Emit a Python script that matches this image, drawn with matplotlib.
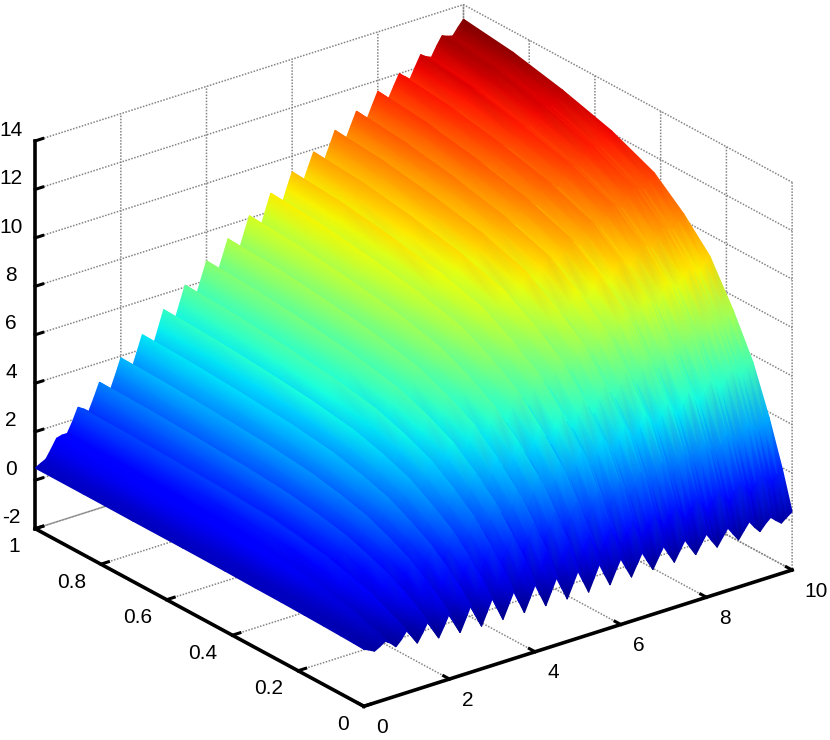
import matplotlib
matplotlib.use("Agg")
import matplotlib.pyplot as plt
import numpy as np
from mpl_toolkits.mplot3d import proj3d

plt.rcParams["font.family"] = ["Liberation Sans", "DejaVu Sans"]
plt.rcParams["axes.unicode_minus"] = False

X_TICKS = [0, 2, 4, 6, 8, 10]
Y_TICKS = [0, 0.2, 0.4, 0.6, 0.8, 1]
Z_TICKS = [-2, 0, 2, 4, 6, 8, 10, 12, 14]
Y_LABELS = ["0", "0.2", "0.4", "0.6", "0.8", "1"]

# surface samples, one row per y, x runs 0..10 in steps of 0.125
Y_VALUES = [0, 0.03, 0.07, 0.12, 0.18, 0.25, 0.33, 0.42, 0.55, 0.7, 0.85, 1]
Z_ROWS = [
    [.35,.25,.13,.25, .40,.25,.03,.25, .55,.25,-.10,.25, .65,.25,-.17,.25, .70,.25,-.23,.25,
     .75,.25,-.25,.25, .75,.25,-.25,.25, .75,.25,-.25,.25, .75,.25,-.25,.25, .75,.25,-.25,.25,
     .75,.25,-.25,.25, .75,.25,-.23,.25, .70,.25,-.19,.25, .67,.25,-.16,.25, .65,.25,-.14,.25,
     .63,.25,-.11,.25, .60,.25,-.08,.25, .57,.25,-.06,.25, .55,.25,0,.25, .45,.25,.07,.25, .40],
    [.37,.30,.21,.35, .53,.41,.21,.46, .78,.50,.17,.54, .96,.58,.18,.62, 1.09,.66,.20,.69,
     1.21,.73,.26,.78, 1.30,.82,.35,.87, 1.39,.91,.44,.96, 1.48,1.00,.52,1.03, 1.55,1.07,.59,1.11,
     1.63,1.15,.67,1.19, 1.71,1.23,.77,1.27, 1.74,1.31,.88,1.34, 1.78,1.38,.99,1.41, 1.83,1.45,1.08,1.48,
     1.88,1.52,1.17,1.55, 1.91,1.58,1.26,1.61, 1.94,1.64,1.34,1.67, 1.98,1.70,1.47,1.74, 1.96,1.77,1.60,1.80, 1.96],
    [.39,.35,.29,.46, .67,.58,.41,.69, 1.04,.78,.48,.87, 1.31,.96,.58,1.05, 1.54,1.13,.69,1.21,
     1.75,1.30,.85,1.40, 1.95,1.50,1.05,1.59, 2.14,1.69,1.23,1.78, 2.32,1.86,1.41,1.95, 2.49,2.03,1.58,2.12,
     2.66,2.20,1.75,2.29, 2.83,2.37,1.94,2.46, 2.95,2.54,2.14,2.61, 3.07,2.69,2.32,2.77, 3.21,2.85,2.49,2.91,
     3.33,2.99,2.67,3.06, 3.45,3.13,2.83,3.19, 3.54,3.26,2.98,3.33, 3.66,3.40,3.19,3.47, 3.71,3.54,3.39,3.60, 3.78],
    [.41,.40,.38,.59, .83,.77,.64,.94, 1.33,1.10,.82,1.23, 1.70,1.37,1.01,1.50, 2.02,1.64,1.22,1.77,
     2.33,1.91,1.48,2.06, 2.64,2.22,1.79,2.37, 2.94,2.51,2.09,2.66, 3.23,2.80,2.36,2.92, 3.49,3.06,2.63,3.19,
     3.76,3.33,2.90,3.46, 4.03,3.60,3.19,3.73, 4.25,3.86,3.50,3.97, 4.45,4.10,3.75,4.23, 4.69,4.35,4.01,4.46,
     4.89,4.57,4.26,4.68, 5.09,4.79,4.51,4.89, 5.26,5.00,4.74,5.09, 5.45,5.21,5.03,5.34, 5.60,5.45,5.31,5.53, 5.73],
    [.43,.45,.46,.70, .97,.94,.83,1.17, 1.58,1.37,1.10,1.54, 2.03,1.72,1.39,1.90, 2.44,2.08,1.68,2.25,
     2.83,2.43,2.03,2.63, 3.23,2.83,2.43,3.03, 3.63,3.23,2.83,3.42, 4.02,3.61,3.19,3.78, 4.36,3.95,3.54,4.13,
     4.72,4.31,3.90,4.48, 5.07,4.66,4.27,4.83, 5.37,5.00,4.66,5.15, 5.65,5.32,4.99,5.49, 5.97,5.64,5.32,5.79,
     6.24,5.94,5.65,6.09, 6.51,6.22,5.96,6.36, 6.74,6.49,6.25,6.62, 7.00,6.78,6.61,6.95, 7.23,7.09,6.97,7.21, 7.42],
    [.45,.50,.53,.80, 1.10,1.09,1.02,1.38, 1.82,1.63,1.39,1.85, 2.36,2.07,1.77,2.30, 2.86,2.52,2.14,2.73,
     3.33,2.96,2.58,3.21, 3.83,3.45,3.08,3.70, 4.32,3.94,3.56,4.18, 4.80,4.41,4.02,4.62, 5.23,4.84,4.45,5.06,
     5.67,5.28,4.89,5.50, 6.11,5.72,5.35,5.94, 6.50,6.15,5.80,6.34, 6.85,6.54,6.23,6.75, 7.25,6.94,6.63,7.11,
     7.58,7.30,7.04,7.49, 7.94,7.67,7.42,7.83, 8.23,8.00,7.78,8.17, 8.56,8.36,8.21,8.56, 8.86,8.73,8.63,8.89, 9.11],
    [.46,.53,.59,.88, 1.20,1.21,1.15,1.53, 1.99,1.82,1.59,2.07, 2.59,2.32,2.03,2.57, 3.15,2.82,2.46,3.06,
     3.68,3.32,2.97,3.61, 4.25,3.89,3.53,4.16, 4.80,4.44,4.08,4.71, 5.35,4.97,4.59,5.21, 5.83,5.46,5.09,5.71,
     6.34,5.96,5.59,6.21, 6.83,6.45,6.10,6.70, 7.27,6.93,6.60,7.15, 7.68,7.38,7.09,7.62, 8.14,7.84,7.55,8.04,
     8.52,8.25,8.00,8.46, 8.92,8.66,8.43,8.85, 9.26,9.04,8.82,9.23, 9.63,9.45,9.31,9.68, 9.99,9.87,9.78,10.05, 10.28],
    [.48,.57,.64,.94, 1.28,1.31,1.27,1.67, 2.15,2.00,1.77,2.25, 2.79,2.53,2.25,2.81, 3.40,3.08,2.73,3.35,
     3.98,3.64,3.30,3.95, 4.61,4.27,3.92,4.58, 5.23,4.88,4.53,5.18, 5.83,5.46,5.10,5.73, 6.36,6.00,5.64,6.28,
     6.92,6.56,6.20,6.83, 7.47,7.11,6.77,7.38, 7.97,7.64,7.32,7.86, 8.41,8.12,7.85,8.39, 8.92,8.63,8.35,8.86,
     9.35,9.09,8.85,9.35, 9.80,9.55,9.32,9.75, 10.17,9.96,9.76,10.17, 10.59,10.41,10.29,10.67, 10.99,10.88,10.80,11.07, 11.32],
    [.49,.59,.68,1.01, 1.35,1.39,1.36,1.77, 2.26,2.11,1.91,2.40, 2.95,2.70,2.43,3.00, 3.60,3.29,2.96,3.58,
     4.22,3.89,3.56,4.22, 4.89,4.56,4.22,4.89, 5.55,5.21,4.88,5.54, 6.20,5.84,5.48,6.12, 6.76,6.41,6.07,6.72,
     7.37,7.01,6.66,7.30, 7.95,7.60,7.27,7.89, 8.49,8.17,7.86,8.42, 8.97,8.69,8.43,8.98, 9.52,9.24,8.98,9.47,
     9.97,9.72,9.49,9.98, 10.46,10.22,10.00,10.43, 10.86,10.66,10.47,10.89, 11.31,11.14,11.03,11.42, 11.75,11.65,11.57,11.85, 12.10],
    [.49,.60,.70,1.03, 1.39,1.44,1.42,1.85, 2.35,2.20,2.00,2.50, 3.06,2.82,2.56,3.13, 3.74,3.44,3.11,3.74,
     4.39,4.07,3.75,4.42, 5.10,4.77,4.45,5.12, 5.79,5.46,5.13,5.80, 6.47,6.12,5.77,6.40, 7.06,6.72,6.38,7.04,
     7.70,7.35,7.01,7.66, 8.31,7.96,7.63,8.28, 8.87,8.56,8.25,8.81, 9.38,9.11,8.85,9.41, 9.96,9.69,9.42,9.93,
     10.44,10.20,9.97,10.47, 10.95,10.71,10.50,10.94, 11.37,11.17,10.98,11.40, 11.84,11.68,11.58,11.97, 12.31,12.22,12.15,12.43, 12.69],
    [.50,.62,.72,1.06, 1.43,1.49,1.47,1.95, 2.41,2.27,2.08,2.59, 3.15,2.92,2.66,3.25, 3.86,3.56,3.23,3.87,
     4.52,4.20,3.89,4.58, 5.26,4.94,4.61,5.29, 5.97,5.65,5.32,6.02, 6.68,6.33,5.99,6.64, 7.30,6.96,6.62,7.29,
     7.95,7.61,7.27,7.93, 8.59,8.25,7.93,8.59, 9.18,8.87,8.57,9.15, 9.71,9.44,9.19,9.75, 10.30,10.03,9.77,10.29,
     10.80,10.56,10.34,10.84, 11.33,11.10,10.89,11.33, 11.77,11.58,11.40,11.81, 12.26,12.11,12.00,12.40, 12.75,12.66,12.59,12.88, 13.14],
    [.50,.62,.73,1.08, 1.45,1.51,1.51,1.94, 2.45,2.31,2.13,2.64, 3.20,2.97,2.71,3.30, 3.92,3.63,3.30,3.94,
     4.60,4.29,3.97,4.66, 5.35,5.03,4.71,5.40, 6.08,5.76,5.44,6.12, 6.80,6.46,6.11,6.76, 7.43,7.10,6.76,7.43,
     8.10,7.76,7.42,8.09, 8.75,8.41,8.10,8.74, 9.35,9.04,8.75,9.33, 9.89,9.63,9.40,9.94, 10.50,10.23,9.98,10.50,
     11.01,10.77,10.56,11.06, 11.55,11.32,11.11,11.56, 12.00,11.81,11.63,12.07, 12.50,12.35,12.25,12.65, 13.00,12.91,12.85,13.14, 13.40],
]

GRID_COLOR = "#858585"


def style_axis(axis, ticks, labels=None, pad=4, ha="center", va="center"):
    axis.set_ticks(ticks)
    if labels is not None:
        axis.set_ticklabels(labels)
    axis.set_pane_color((1, 1, 1, 0))
    axis.pane.set_edgecolor(GRID_COLOR)
    axis.pane.set_linewidth(0.8)
    axis.line.set_color("black")
    axis.line.set_linewidth(2.6)
    axis._axinfo["grid"].update(color=GRID_COLOR, linestyle=(0, (1, 1)), linewidth=1.1)
    axis._axinfo["tick"].update(inward_factor=0.0, outward_factor=0.22)
    axis._axinfo["tick"]["linewidth"] = {True: 2.2, False: 1.0}
    axis.set_tick_params(labelsize=15, pad=pad, colors="black")
    for tick in axis.get_major_ticks():
        tick.label1.set_horizontalalignment(ha)
        tick.label1.set_verticalalignment(va)


def draw_surface(figure, axis, x_grid, y_grid, z_values):
    # mplot3d has no smooth shading, so project the samples and draw them gouraud on a 2d overlay
    figure.canvas.draw()
    x_proj, y_proj, depth = proj3d.proj_transform(
        x_grid.ravel(), y_grid.ravel(), z_values.ravel(), axis.get_proj()
    )
    pixels = axis.transData.transform(np.column_stack([x_proj, y_proj]))

    rows, cols = z_values.shape
    index = np.arange(rows * cols).reshape(rows, cols)
    lower = np.stack([index[:-1, :-1], index[:-1, 1:], index[1:, 1:]], axis=-1).reshape(-1, 3)
    upper = np.stack([index[:-1, :-1], index[1:, 1:], index[1:, :-1]], axis=-1).reshape(-1, 3)
    triangles = np.vstack([lower, upper])
    triangles = triangles[np.argsort(-depth[triangles].mean(axis=1))]

    overlay = figure.add_axes([0, 0, 1, 1])
    overlay.set_xlim(0, figure.bbox.width)
    overlay.set_ylim(0, figure.bbox.height)
    overlay.axis("off")
    overlay.tripcolor(
        pixels[:, 0], pixels[:, 1], triangles, z_values.ravel(),
        shading="gouraud", cmap="jet", vmin=z_values.min(), vmax=z_values.max(),
    )


def main():
    z_values = np.array(Z_ROWS)
    x_values = np.linspace(0, 10, z_values.shape[1])
    x_grid, y_grid = np.meshgrid(x_values, Y_VALUES)

    figure = plt.figure(figsize=(8.3, 7.4), dpi=100)
    # the 3d axes forces a square box, so it is made larger than the figure
    axis = figure.add_axes([-0.1204, -0.1741, 1.205, 1.351], projection="3d", proj_type="ortho")
    axis.view_init(elev=24.5, azim=-127.5)
    axis.set_box_aspect((541, 541, 427), zoom=0.849)

    axis.set_xlim(0, 10)
    axis.set_ylim(0, 1)
    axis.set_zlim(-2, 14)
    style_axis(axis.xaxis, X_TICKS, pad=6, ha="left")
    style_axis(axis.yaxis, Y_TICKS, Y_LABELS, pad=5, ha="right")
    style_axis(axis.zaxis, Z_TICKS, pad=4, va="bottom")
    axis.zaxis.set_ticks_position("upper")

    draw_surface(figure, axis, x_grid, y_grid, z_values)

    figure.savefig("out.png", dpi=100)
    plt.close(figure)


if __name__ == "__main__":
    main()
